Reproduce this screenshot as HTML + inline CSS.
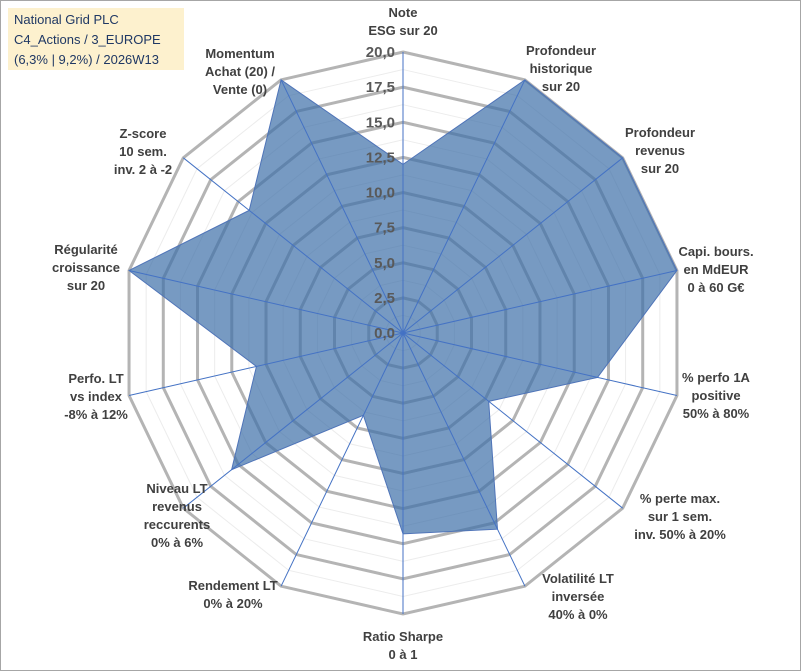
<!DOCTYPE html>
<html><head><meta charset="utf-8"><style>
body{margin:0;background:#fff;}
svg{display:block;font-family:"Liberation Sans",Arial,sans-serif;}
</style></head><body>
<svg width="801" height="671">
<rect x="0.5" y="0.5" width="800" height="670" fill="#fff" stroke="#a6a6a6"/>
<g id="grid"></g><g id="series"></g><g id="spokes"></g><g id="ticks"></g><g id="labels"></g>
<g>
<rect x="8" y="8" width="176" height="62" fill="#fdf1ce"/>
<text x="14" y="24" font-size="13" fill="#1f3864">National Grid PLC</text>
<text x="14" y="44" font-size="13" fill="#1f3864">C4_Actions / 3_EUROPE</text>
<text x="14" y="64" font-size="13" fill="#1f3864">(6,3% | 9,2%) / 2026W13</text>
</g>
</svg>
<script>
const categories=["Note|ESG sur 20","Profondeur|historique|sur 20","Profondeur|revenus|sur 20","Capi. bours.|en MdEUR|0 à 60 G€","% perfo 1A|positive|50% à 80%","% perte max.|sur 1 sem.|inv. 50% à 20%","Volatilité LT|inversée|40% à 0%","Ratio Sharpe|0 à 1","Rendement LT|0% à 20%","Niveau LT|revenus|reccurents|0% à 6%","Perfo. LT|vs index|-8% à 12%","Régularité|croissance|sur 20","Z-score|10 sem.|inv. 2 à -2","Momentum|Achat (20) /|Vente (0)"];
const values=[12,20,20,20,14.2,7.8,15.5,14.3,6.5,15.6,10.7,20,14,20];
const tickLabels=["0,0","2,5","5,0","7,5","10,0","12,5","15,0","17,5","20,0"];
const labelPos=[[403,17],[561,55],[660,137],[716,256],[716,382],[680,503],[578,583],[403,641],[233,590],[177,493],[96,383],[86,254],[143,138],[240,58]];
const NS="http://www.w3.org/2000/svg";
const cx=403,cy=333,R=281,maxV=20,n=categories.length;
function ang(i){return i*2*Math.PI/n;}
function pt(i,v){const r=v/maxV*R;return [cx+r*Math.sin(ang(i)),cy-r*Math.cos(ang(i))];}
function mk(tag,attrs,parent){const e=document.createElementNS(NS,tag);for(const k in attrs)e.setAttribute(k,attrs[k]);document.getElementById(parent).appendChild(e);return e;}
for(let k=1;k<=16;k++){const v=k*1.25;const major=k%2===0;
 const p=categories.map((c,i)=>pt(i,v).join(",")).join(" ");
 const g=mk("polygon",{points:p,fill:"none",stroke:major?"#b4b4b4":"#ececec","stroke-width":major?3:1},"grid");
 
 }
const poly=mk("polygon",{points:values.map((v,i)=>pt(i,v).join(",")).join(" "),fill:"rgba(61,111,168,0.7)",stroke:"#4f74b8","stroke-width":1},"series");


categories.forEach((c,i)=>{const e=pt(i,maxV);
 const l=mk("line",{x1:cx,y1:cy,x2:e[0],y2:e[1],stroke:"#4472c4","stroke-width":1},"spokes");
 
 
 const lines=c.split("|");const [lx,ly]=labelPos[i];
 const t=mk("text",{x:lx,y:ly,"text-anchor":"middle","font-size":13,"font-weight":"bold",fill:"#404040"},"labels");
 
 
 lines.forEach((s,j)=>{const ts=document.createElementNS(NS,"tspan");ts.setAttribute("x",lx);ts.setAttribute("dy",j?18:0);ts.textContent=s;t.appendChild(ts);});
});
tickLabels.forEach((s,k)=>{const t=mk("text",{x:cx-8,y:cy-k*2.5/maxV*R+5,"text-anchor":"end","font-size":15,"font-weight":"bold",fill:"#595959"},"ticks");
 
 
 t.textContent=s;});
</script>
</body></html>
